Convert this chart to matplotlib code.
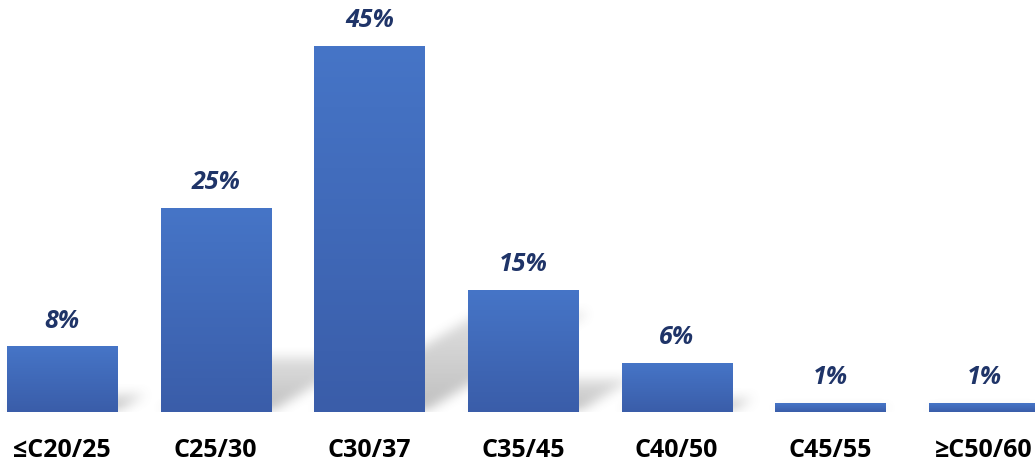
import numpy as np
import matplotlib.pyplot as plt
from matplotlib.colors import LinearSegmentedColormap

categories = ['≤C20/25', 'C25/30', 'C30/37', 'C35/45', 'C40/50', 'C45/55', '≥C50/60']
values = [8, 25, 45, 15, 6, 1, 1]
labels = ['8%', '25%', '45%', '15%', '6%', '1%', '1%']

plt.rcParams['font.family'] = ['Open Sans', 'DejaVu Sans']

W, H = 1035, 464
fig = plt.figure(figsize=(W / 100, H / 100), dpi=100)
ax = fig.add_axes([0, 51 / H, 1, 413 / H])
x0, x1 = -0.403, 6.332
y1 = 50.8
ax.set_xlim(x0, x1)
ax.set_ylim(0, y1)

width = 0.716
grad = LinearSegmentedColormap.from_list('g', ['#3a5da9', '#4675c7'])

# soft perspective shadows behind the bars
pw, ph = W, 413
img_a = np.zeros((ph, pw))
yy, xx = np.mgrid[0:ph, 0:pw]
for i, v in enumerate(values):
    L = (i - width / 2 - x0) / (x1 - x0) * pw
    R = (i + width / 2 - x0) / (x1 - x0) * pw
    h = v / y1 * ph
    s = 0.27 * h
    dx = 0.45 * h
    if s < 1:
        continue
    shift = yy * dx / s
    m = (yy <= s) & (xx >= L + shift) & (xx <= R + shift)
    img_a = np.maximum(img_a, m * (1 - 0.5 * yy / s))

k = np.ones(13) / 13
for _ in range(2):
    img_a = np.apply_along_axis(lambda r: np.convolve(r, k, mode='same'), 1, img_a)
    img_a = np.apply_along_axis(lambda c: np.convolve(c, k, mode='same'), 0, img_a)
rgba = np.zeros((ph, pw, 4))
rgba[..., :3] = 0.4
rgba[..., 3] = img_a * 0.42
ax.imshow(rgba, extent=(x0, x1, 0, y1), origin='lower', aspect='auto', zorder=1)

bars = ax.bar(range(len(values)), values, width=width, color='none', zorder=2)
gvals = np.linspace(0, 1, 256).reshape(-1, 1)
for b in bars:
    bx, bw, bh = b.get_x(), b.get_width(), b.get_height()
    ax.imshow(gvals, cmap=grad, extent=(bx, bx + bw, 0, bh), origin='lower',
              aspect='auto', zorder=2)

for i, (v, t) in enumerate(zip(values, labels)):
    ax.annotate(t, (i, v), xytext=(0, 19.4), textcoords='offset points',
                ha='center', va='center', fontsize=18, fontweight='bold',
                fontstyle='italic', color='#1f3468')

ax.set_xticks(range(len(categories)))
ax.set_xticklabels(categories, fontsize=18, fontweight='bold', color='black')
ax.tick_params(axis='x', length=0, pad=18)
ax.set_yticks([])
for sp in ax.spines.values():
    sp.set_visible(False)
ax.set_xlim(x0, x1)
ax.set_ylim(0, y1)

fig.savefig('out.png', dpi=100)
